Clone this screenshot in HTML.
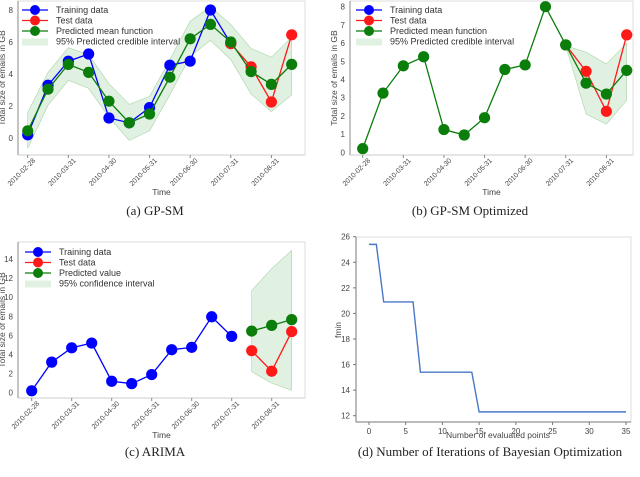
<!DOCTYPE html>
<html><head><meta charset="utf-8"><style>
body{margin:0;background:#fff;}
svg{display:block;font-family:"Liberation Sans",sans-serif;}
.cap{font-family:"Liberation Serif",serif;font-size:13px;fill:#222;}
.tk{font-size:8px;fill:#444;}
.xt{font-size:7px;fill:#444;}
.ax{font-size:8.5px;fill:#444;}
.lg{font-size:9px;fill:#333;}
</style></head><body>
<svg id="s" width="640" height="477" viewBox="0 0 640 477"></svg>
<script>
const dates=["2010-02-28","2010-03-31","2010-04-30","2010-05-31","2010-06-30","2010-07-31","2010-08-31"];
// Panel a
const aTrain=[0.2,3.3,4.8,5.25,1.25,0.95,1.9,4.55,4.8,8.0,5.9];
const aTest=[4.45,2.25,6.45];
const aMean=[0.45,3.05,4.6,4.1,2.3,0.95,1.5,3.8,6.2,7.1,6.0,4.15,3.35,4.6];
const aUpper=[1.6,4.1,5.65,5.2,3.4,2.1,2.6,4.9,7.3,8.2,7.1,5.6,5.05,6.3];
const aLower=[-0.65,2.05,3.6,3.1,1.3,-0.15,0.45,2.7,5.1,6.1,4.9,2.75,1.65,2.7];
const aYTicks=[0,2,4,6,8];
// Panel b
const bTrain=[0.2,3.25,4.75,5.25,1.25,0.95,1.9,4.55,4.8,8.0,5.9];
const bTest=[4.45,2.25,6.45];
const bMean=[5.9,3.8,3.2,4.5];
const bUpper=[5.85,5.5,4.85,6.0];
const bLower=[5.85,2.1,1.55,2.85];
const bYTicks=[0,1,2,3,4,5,6,7,8];
// Panel c
const cTrain=[0.2,3.2,4.7,5.2,1.2,0.95,1.9,4.5,4.75,7.95,5.9];
const cTest=[4.4,2.25,6.4];
const cPred=[6.45,7.05,7.65];
const cUpper=[10.7,13.0,14.9];
const cLower=[2.2,1.0,0.25];
const cYTicks=[0,2,4,6,8,10,12,14];
// Panel d
const dIter=[];for(let i=0;i<=35;i++)dIter.push(i);
const dFmin=[25.4,25.4,20.9,20.9,20.9,20.9,20.9,15.4,15.4,15.4,15.4,15.4,15.4,15.4,15.4,12.3,12.3,12.3,12.3,12.3,12.3,12.3,12.3,12.3,12.3,12.3,12.3,12.3,12.3,12.3,12.3,12.3,12.3,12.3,12.3,12.3];
const dXTicks=[0,5,10,15,20,25,30,35];
const dYTicks=[12,14,16,18,20,22,24,26];

const S=document.getElementById('s');const NS="http://www.w3.org/2000/svg";
function mk(t,a,p,txt){const e=document.createElementNS(NS,t);for(const k in a)e.setAttribute(k,a[k]);if(txt!==undefined)e.textContent=txt;(p||S).appendChild(e);return e;}
function lin(d0,d1,r0,r1){return v=>r0+(v-d0)*(r1-r0)/(d1-d0);}
const GREEN="#0a7d0a",BLUE="#0000ff",RED="#ff1a1a",BAND="rgba(120,190,120,0.22)";

function series(g,xs,ys,col,name){
  const pts=xs.map((x,i)=>x+","+ys[i]).join(" ");
  const l=mk('polyline',{points:pts,fill:'none',stroke:col,'stroke-width':1.3},g);
  
  
  xs.forEach((x,i)=>{const c=mk('circle',{cx:x,cy:ys[i],r:5.6,fill:col},g);
    
    });
}
function band(g,xs,up,lo,y,name){
  const p=xs.map((x,i)=>x+","+y(up[i])).concat(xs.slice().reverse().map((x,i)=>x+","+y(lo[lo.length-1-i]))).join(" ");
  const b=mk('polygon',{points:p,fill:BAND,stroke:'rgba(100,180,100,0.5)','stroke-width':0.6},g);
  
  
}
function legend(g,x0,y0,items){
  items.forEach((it,i)=>{const y=y0+i*10.5;
    const lg=mk('g',{},g);
    
    
    if(it.band){mk('rect',{x:x0,y:y-3,width:26,height:7,fill:BAND},lg);}
    else{mk('line',{x1:x0,y1:y,x2:x0+26,y2:y,stroke:it.c,'stroke-width':1.3},lg);mk('circle',{cx:x0+13,cy:y,r:5,fill:it.c},lg);}
    mk('text',{x:x0+34,y:y+3.2,class:'lg'},lg,it.t);});
}
function tsPanel(o){
  const g=mk('g',{});
  const x=lin(0,13,o.x0,o.x13),y=lin(o.ymin,o.ymax,o.py0,o.py1);
  mk('rect',{x:o.bx,y:o.by,width:o.bw,height:o.bh,fill:'#fff',stroke:'#ddd','stroke-width':1},g);
  mk('line',{x1:o.bx,y1:o.by,x2:o.bx,y2:o.by+o.bh,stroke:'#888','stroke-width':1},g);
  mk('line',{x1:o.bx,y1:o.by+o.bh,x2:o.bx+o.bw,y2:o.by+o.bh,stroke:'#ccc','stroke-width':1},g);
  o.yt.forEach(v=>{const t=mk('text',{x:o.bx-5,y:y(v)+3,class:'tk','text-anchor':'end'},g,v);
    });
  dates.forEach((d,i)=>{const tx=x(i*2);const yb=o.by+o.bh;
    mk('line',{x1:tx,y1:yb,x2:tx,y2:yb+3,stroke:'#888'},g);
    const t=mk('text',{x:0,y:0,class:'xt','text-anchor':'end',transform:`translate(${tx+8},${yb+6}) rotate(-45)`},g,d);
    });
  const yl=mk('text',{x:0,y:0,class:'ax','text-anchor':'middle',transform:`translate(${o.ylx},${o.by+o.bh/2}) rotate(-90)`},g,'Total size of emails in GB');
  
  const xl=mk('text',{x:o.bx+o.bw/2,y:o.by+o.bh+40,class:'ax','text-anchor':'middle'},g,'Time');
  
  const cp=mk('text',{x:o.capx,y:o.capy,class:'cap','text-anchor':'middle'},g,o.cap);
  
  return {g,x,y};
}
// (a)
{const P=tsPanel({name:'panel-gp-sm',x0:27.7,x13:291.7,ymin:0,ymax:8,py0:138,py1:10,bx:18,by:1,bw:287,bh:154,yt:aYTicks,ylx:5,capx:155,capy:215,cap:'(a) GP-SM'});
 const xa=aMean.map((_,i)=>P.x(i));band(P.g,xa,aUpper,aLower,P.y,'credible-interval');
 series(P.g,aTrain.map((_,i)=>P.x(i)),aTrain.map(P.y),BLUE,'training');
 series(P.g,[aTrain.length-1].concat(aTest.map((_,i)=>i+aTrain.length)).map(P.x),[aTrain[aTrain.length-1]].concat(aTest).map(P.y),RED,'test');
 series(P.g,xa,aMean.map(P.y),GREEN,'predicted-mean');
 legend(P.g,22,10,[{c:BLUE,t:'Training data'},{c:RED,t:'Test data'},{c:GREEN,t:'Predicted mean function'},{band:1,t:'95% Predicted credible interval'}]);}
// (b)
{const P=tsPanel({name:'panel-gp-sm-optimized',x0:362.7,x13:626.7,ymin:0,ymax:8,py0:152.3,py1:6.7,bx:350,by:1,bw:283,bh:154,yt:bYTicks,ylx:337,capx:470,capy:215,cap:'(b) GP-SM Optimized'});
 const xs=bMean.map((_,i)=>P.x(i+10));band(P.g,xs,bUpper,bLower,P.y,'credible-interval');
 series(P.g,[10,11,12,13].map(P.x),[bTrain[10]].concat(bTest).map(P.y),RED,'test');
 series(P.g,bTrain.map((_,i)=>P.x(i)),bTrain.map(P.y),GREEN,'training-fit');
 series(P.g,xs,bMean.map(P.y),GREEN,'predicted-mean');
 legend(P.g,356,10,[{c:BLUE,t:'Training data'},{c:RED,t:'Test data'},{c:GREEN,t:'Predicted mean function'},{band:1,t:'95% Predicted credible interval'}]);}
// (c)
{const P=tsPanel({name:'panel-arima',x0:31.7,x13:291.7,ymin:0,ymax:14,py0:392.7,py1:259,bx:18,by:242,bw:287,bh:156,yt:cYTicks,ylx:5,capx:155,capy:456,cap:'(c) ARIMA'});
 const xs=[11,12,13].map(P.x);band(P.g,xs,cUpper,cLower,P.y,'confidence-interval');
 series(P.g,cTrain.map((_,i)=>P.x(i)),cTrain.map(P.y),BLUE,'training');
 series(P.g,xs,cTest.map(P.y),RED,'test');
 series(P.g,xs,cPred.map(P.y),GREEN,'predicted');
 legend(P.g,25,252,[{c:BLUE,t:'Training data'},{c:RED,t:'Test data'},{c:GREEN,t:'Predicted value'},{band:1,t:'95% confidence interval'}]);}
// (d)
{const g=mk('g',{});
 const x=lin(0,35,369,626),y=lin(12,26,415.7,236.7);
 const bx=356,by=237,bw=275,bh=185;
 mk('rect',{x:bx,y:by,width:bw,height:bh,fill:'#fff',stroke:'#ddd'},g);
 mk('line',{x1:bx,y1:by,x2:bx,y2:by+bh,stroke:'#777'},g);
 mk('line',{x1:bx,y1:by+bh,x2:bx+bw,y2:by+bh,stroke:'#777'},g);
 dYTicks.forEach(v=>{mk('line',{x1:bx-3,y1:y(v),x2:bx,y2:y(v),stroke:'#777'},g);
  const t=mk('text',{x:bx-6,y:y(v)+3,class:'tk','font-size':'8.5px','text-anchor':'end'},g,v);
  });
 dXTicks.forEach(v=>{mk('line',{x1:x(v),y1:by+bh,x2:x(v),y2:by+bh+3,stroke:'#777'},g);
  const t=mk('text',{x:x(v),y:by+bh+12,class:'tk','font-size':'8.5px','text-anchor':'middle'},g,v);
  });
 const l=mk('polyline',{points:dIter.map((v,i)=>x(v)+","+y(dFmin[i])).join(" "),fill:'none',stroke:'#4a78c8','stroke-width':1.4},g);
 
 const xl=mk('text',{x:498,y:438,class:'ax','text-anchor':'middle'},g,'Number of evaluated points');
 
 const yl=mk('text',{x:0,y:0,class:'ax','text-anchor':'middle',transform:'translate(341,330) rotate(-90)'},g,'fmin');
 
 const cp=mk('text',{x:490,y:456,class:'cap','text-anchor':'middle'},g,'(d) Number of Iterations of Bayesian Optimization');
 }
</script>
</body></html>
